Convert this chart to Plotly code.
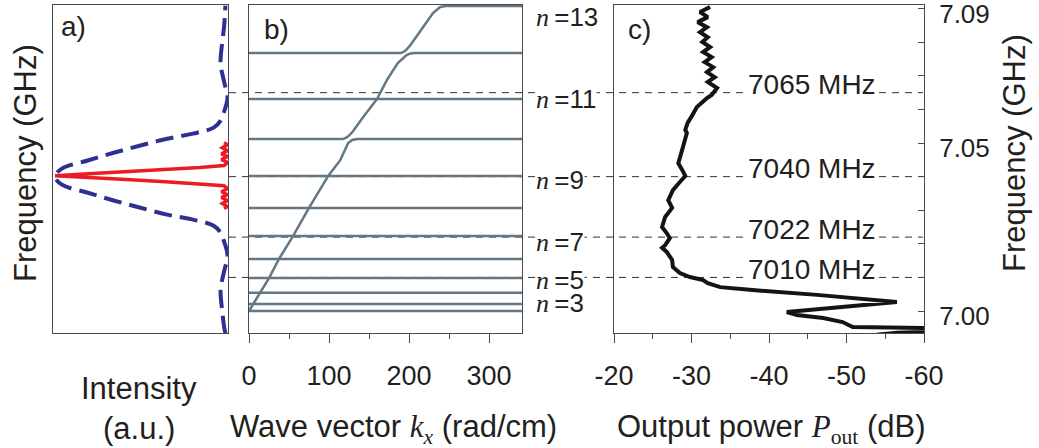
import plotly.graph_objects as go

W, H = 1039, 448

# ---------------- data ----------------
# panel a: spectra (intensity, a.u.) vs frequency (GHz)
blue_freq = [6.9933, 6.9954, 6.9998, 7.0064, 7.0117, 7.0165, 7.0207, 7.0233, 7.0254, 7.0272,
             7.0287, 7.0308, 7.0329, 7.0352, 7.0376, 7.0400, 7.0424, 7.0448, 7.0471, 7.0492,
             7.0513, 7.0528, 7.0546, 7.0567, 7.0593, 7.0635, 7.0683, 7.0736, 7.0802, 7.0846, 7.0909]
blue_int = [0.012, 0.02, 0.03, 0.04, 0.02, 0.0, 0.02, 0.04, 0.08, 0.2,
            0.35, 0.51, 0.66, 0.81, 0.96, 1.0, 0.96, 0.81, 0.66, 0.51,
            0.35, 0.2, 0.08, 0.04, 0.02, 0.0, 0.02, 0.04, 0.03, 0.02, 0.012]

red_freq = [7.0305, 7.0311, 7.0320, 7.0329, 7.0338, 7.0346, 7.0355, 7.0364, 7.0373, 7.0379,
            7.0385, 7.0391, 7.0397, 7.0403, 7.0409, 7.0415, 7.0421, 7.0427, 7.0433, 7.0442,
            7.0451, 7.0460, 7.0468, 7.0477, 7.0486, 7.0495, 7.0501]
red_int = [0.02, 0.0, 0.03, 0.0, 0.035, 0.0, 0.035, 0.0, 0.02, 0.16,
           0.36, 0.56, 0.78, 1.0, 0.78, 0.56, 0.36, 0.16, 0.02, 0.0,
           0.035, 0.0, 0.035, 0.0, 0.03, 0.0, 0.02]

# panel b: dispersion (wave vector rad/cm, frequency GHz)
mode_freqs = [7.0000, 7.0021, 7.0054, 7.0098, 7.0155, 7.0223, 7.0307, 7.0402, 7.0631]
k_max = 341.25

branch1_k = [0, 13.75, 25, 37.5, 55, 75, 99, 114, 120, 124, 129, 135, 341.25]
branch1_f = [7.0000, 7.0054, 7.0098, 7.0155, 7.0223, 7.0307, 7.0402, 7.0449, 7.0479, 7.0500,
             7.0509, 7.0512, 7.0512]
branch2_k = [0, 117.5, 121, 125, 130, 142.5, 160, 172.5, 186, 192.5, 197, 201, 206, 341.25]
branch2_f = [7.0512, 7.0512, 7.0515, 7.0522, 7.0535, 7.0577, 7.0631, 7.0688, 7.0738, 7.0754,
             7.0762, 7.0766, 7.0768, 7.0768]
branch3_k = [0, 190, 195, 201, 214, 230, 239, 246, 341.25]
branch3_f = [7.0768, 7.0768, 7.0774, 7.0789, 7.0833, 7.0887, 7.0905, 7.0908, 7.0908]

# n labels (mode number, frequency GHz)
n_labels = [13, 11, 9, 7, 5, 3]
n_label_freqs = [7.0908, 7.0631, 7.0402, 7.0223, 7.0098, 7.0021]

# panel c: output power (dB) vs frequency (GHz)
pout_freq = [7.0905, 7.0890, 7.0875, 7.0860, 7.0845, 7.0830, 7.0815, 7.0801, 7.0786, 7.0771,
             7.0756, 7.0741, 7.0726, 7.0711, 7.0696, 7.0682, 7.0664, 7.0643, 7.0634, 7.0607,
             7.0583, 7.0560, 7.0539, 7.0530, 7.0488, 7.0458, 7.0440, 7.0420, 7.0402, 7.0384,
             7.0360, 7.0330, 7.0307, 7.0280, 7.0250, 7.0232, 7.0217, 7.0196, 7.0188, 7.0176,
             7.0152, 7.0131, 7.0113, 7.0101, 7.0092, 7.0083, 7.0071, 7.0063, 7.0048, 7.0027,
             6.9997, 6.9988, 6.9979, 6.9967, 6.9952, 6.9949, 6.9938, 6.9935, 6.9929]
pout_db = [-32.4, -31.1, -32.1, -30.8, -32.0, -31.1, -32.1, -31.4, -32.4, -31.5,
           -32.6, -31.7, -32.8, -32.0, -33.0, -32.1, -33.3, -32.6, -32.0, -30.7,
           -30.1, -29.5, -29.2, -29.4, -28.9, -28.5, -28.3, -28.8, -29.2, -28.5,
           -27.6, -27.0, -27.5, -26.6, -26.2, -26.8, -27.2, -26.6, -26.2, -26.8,
           -27.5, -27.6, -28.5, -29.8, -31.5, -32.1, -33.7, -37.5, -46.2, -56.5,
           -42.3, -43.6, -47.0, -49.5, -50.8, -60.4, -60.4, -56.5, -53.9]

# dashed reference frequencies (GHz)
ref_freqs = [7.065, 7.040, 7.022, 7.010]

# axes
y_range = [6.99345, 7.09110]
int_range = [1.0116, -0.0029]
k_tickvals = [0, 100, 200, 300]
k_ticktext = ["0", "100", "200", "300"]
pout_range = [-20, -60]
pout_tickvals = [-20, -30, -40, -50, -60]
pout_ticktext = ["-20", "-30", "-40", "-50", "-60"]
freq_tickvals = [7.00, 7.01, 7.02, 7.03, 7.04, 7.05, 7.06, 7.07, 7.08, 7.09]
freq_ticktext = ["7.00", "", "", "", "", "7.05", "", "", "", "7.09"]

# ---------------- style ----------------
SANS = "Liberation Sans"
SERIF = "Liberation Serif"
FRAME = "#4a4a4a"
GREY_LINE = "#627884"
TXT = "#231f20"


def px(x):
    return x / W


def py(y):
    return 1 - y / H


fig = go.Figure()

# panel a
fig.add_trace(go.Scatter(x=blue_int, y=blue_freq, mode="lines", line_shape="spline",
                         line=dict(color="#2e3192", width=4, dash="18px,8px"),
                         xaxis="x", yaxis="y", hoverinfo="skip"))
fig.add_trace(go.Scatter(x=red_int, y=red_freq, mode="lines",
                         line=dict(color="#ed1c24", width=3.5),
                         xaxis="x", yaxis="y", hoverinfo="skip"))

# panel b: flat modes
hx, hy = [], []
for f in mode_freqs:
    hx += [0, k_max, None]
    hy += [f, f, None]
fig.add_trace(go.Scatter(x=hx, y=hy, mode="lines", line=dict(color=GREY_LINE, width=2.5),
                         xaxis="x2", yaxis="y2", hoverinfo="skip"))
for bk, bf in [(branch1_k, branch1_f), (branch2_k, branch2_f), (branch3_k, branch3_f)]:
    fig.add_trace(go.Scatter(x=bk, y=bf, mode="lines", line=dict(color=GREY_LINE, width=2.5),
                             xaxis="x2", yaxis="y2", hoverinfo="skip"))

# panel c
fig.add_trace(go.Scatter(x=pout_db, y=pout_freq, mode="lines",
                         line=dict(color="#141414", width=4),
                         xaxis="x3", yaxis="y3", hoverinfo="skip"))

# dashed reference lines
shapes = []
for f in ref_freqs:
    shapes.append(dict(type="line", xref="paper", yref="y", x0=px(229), x1=px(923), y0=f, y1=f,
                       layer="below", line=dict(color="#333333", width=1, dash="7px,6px")))

annotations = []
# MHz labels
for f in ref_freqs:
    annotations.append(dict(xref="paper", yref="y3", x=px(812), y=f, yshift=8,
                            text=f"{round(f * 1000):d} MHz", showarrow=False,
                            font=dict(family=SANS, size=28, color=TXT),
                            bgcolor="white", borderpad=0, xanchor="center", yanchor="middle"))
# n labels
n_shift = {13: -11, 11: 0, 9: -4, 7: -6, 5: -2, 3: 1}
for n, f in zip(n_labels, n_label_freqs):
    annotations.append(dict(xref="paper", yref="y2", x=px(535), y=f, yshift=n_shift[n],
                            text=f'<span style="font-family:{SERIF}"><i>n</i></span>\u2009={n}',
                            showarrow=False, font=dict(family=SANS, size=26, color=TXT),
                            bgcolor="white" if n in (11, 9, 7, 5) else None, borderpad=0,
                            xanchor="left", yanchor="middle"))

# panel labels
for t, x, y in [("a)", 59, 27), ("b)", 262, 30), ("c)", 626, 30)]:
    annotations.append(dict(xref="paper", yref="paper", x=px(x), y=py(y), text=t, showarrow=False,
                            font=dict(family=SANS, size=28, color=TXT),
                            xanchor="left", yanchor="middle"))

title_font = dict(family=SANS, size=31, color=TXT)
annotations += [
    dict(xref="paper", yref="paper", x=px(25), y=py(163), text="Frequency (GHz)", textangle=-90,
         showarrow=False, font=title_font, xanchor="center", yanchor="middle"),
    dict(xref="paper", yref="paper", x=px(1014), y=py(153), text="Frequency (GHz)", textangle=-90,
         showarrow=False, font=title_font, xanchor="center", yanchor="middle"),
    dict(xref="paper", yref="paper", x=px(139), y=py(388), text="Intensity",
         showarrow=False, font=title_font, xanchor="center", yanchor="middle"),
    dict(xref="paper", yref="paper", x=px(139), y=py(428), text="(a.u.)",
         showarrow=False, font=title_font, xanchor="center", yanchor="middle"),
    dict(xref="paper", yref="paper", x=px(393), y=py(429),
         text=f'Wave vector <span style="font-family:{SERIF}"><i>k</i><sub><i>x</i></sub></span> (rad/cm)',
         showarrow=False, font=title_font, xanchor="center", yanchor="middle"),
    dict(xref="paper", yref="paper", x=px(771), y=py(429),
         text=f'Output power <span style="font-family:{SERIF}"><i>P</i><sub>out</sub></span> (dB)',
         showarrow=False, font=title_font, xanchor="center", yanchor="middle"),
]

ydom = [py(333), py(5)]
frame = dict(showline=True, mirror=True, linecolor=FRAME, linewidth=1, showgrid=False,
             zeroline=False)
tick_font = dict(family=SANS, size=27, color=TXT)

fig.update_layout(
    width=W, height=H, margin=dict(l=0, r=0, t=0, b=0, autoexpand=False),
    paper_bgcolor="white", plot_bgcolor="rgba(0,0,0,0)", showlegend=False,
    shapes=shapes, annotations=annotations,
    xaxis=dict(domain=[px(53), px(228)], range=int_range, showticklabels=False, ticks="",
               anchor="y", **frame),
    yaxis=dict(domain=ydom, range=y_range, showticklabels=False, ticks="", anchor="x", **frame),
    xaxis2=dict(domain=[px(249), px(522)], range=[0, k_max], anchor="y2",
                tickvals=k_tickvals, ticktext=k_ticktext,
                ticks="outside", ticklen=9, tickcolor=FRAME, tickfont=tick_font,
                ticklabelstandoff=10,
                minor=dict(dtick=50, tick0=0, ticks="outside", ticklen=5, tickcolor=FRAME),
                **frame),
    yaxis2=dict(domain=ydom, range=y_range, showticklabels=False, ticks="", anchor="x2", **frame),
    xaxis3=dict(domain=[px(614), px(924)], range=pout_range, anchor="y3",
                tickvals=pout_tickvals, ticktext=pout_ticktext,
                ticks="outside", ticklen=9, tickcolor=FRAME, tickfont=tick_font,
                ticklabelstandoff=10,
                minor=dict(dtick=5, tick0=-20, ticks="outside", ticklen=5, tickcolor=FRAME),
                **frame),
    yaxis3=dict(domain=ydom, range=y_range, anchor="x3", side="right", tickvals=freq_tickvals,
                ticktext=freq_ticktext, ticks="inside", ticklen=6, tickcolor=FRAME,
                tickfont=dict(family=SANS, size=26, color=TXT), ticklabelstandoff=9,
                ticklabelshift=5, ticklabeloverflow="allow",
                **frame),
)

fig.write_html("out.html")
